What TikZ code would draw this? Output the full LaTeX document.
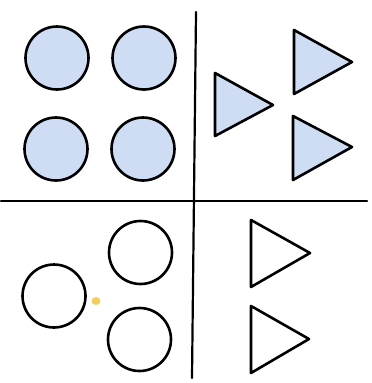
\documentclass[tikz,border=0pt]{standalone}
\definecolor{shapefill}{RGB}{206,220,244}
\definecolor{smudge}{RGB}{244,206,92}
\begin{document}
\begin{tikzpicture}[x=1pt,y=-1pt,line join=round,line cap=round,
  ring/.style={circle,draw=black,line width=2.6pt,minimum size=63pt,inner sep=0pt},
  bluering/.style={ring,fill=shapefill},
  tri/.style={draw=black,line width=2.6pt},
  bluetri/.style={tri,fill=shapefill},
  divider/.style={draw=black,line width=2.2pt}]
\useasboundingbox (0,0) rectangle (372,383);
% dividers
\coordinate (vt) at (196,12);
\coordinate (vb) at (192,378);
\coordinate (hl) at (1,201);
\coordinate (hr) at (367,201);
\draw[divider] (vt) -- (vb);
\draw[divider] (hl) -- (hr);
% top-left filled circles
\node[bluering] (c1) at (57,58) {};
\node[bluering] (c2) at (144,58) {};
\node[bluering] (c3) at (56,149) {};
\node[bluering] (c4) at (143,149) {};
% top-right filled triangles
\draw[bluetri] (215,73) -- (273,105) -- (215,136) -- cycle;
\draw[bluetri] (294,30) -- (352,62) -- (294,94) -- cycle;
\draw[bluetri] (293,116) -- (352,147) -- (293,180) -- cycle;
% bottom-left circles
\node[ring] (d1) at (54,296) {};
\node[ring] (d2) at (140.5,252.5) {};
\node[ring] (d3) at (139.5,339.5) {};
\fill[smudge] (96,301) ellipse (4.5 and 4);
% bottom-right triangles
\draw[tri] (251,220) -- (310,253) -- (251,287) -- cycle;
\draw[tri] (251,306) -- (309,339) -- (251,373) -- cycle;
\end{tikzpicture}
\end{document}
